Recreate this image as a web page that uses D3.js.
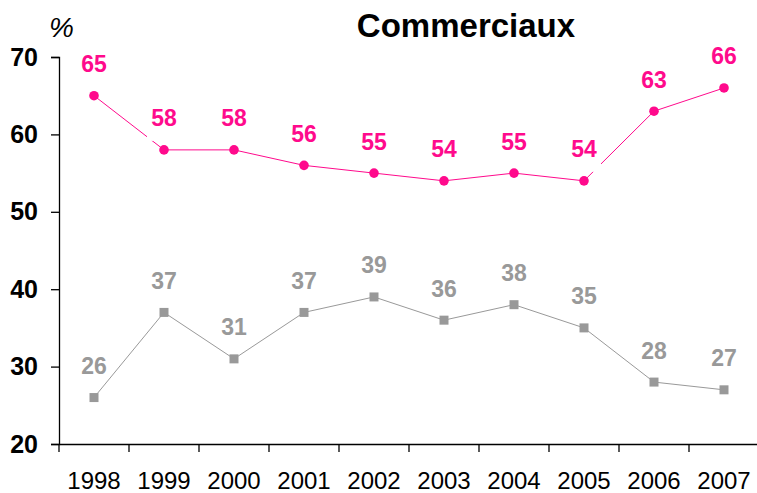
<!DOCTYPE html>
<html>
<head>
<meta charset="utf-8">
<script src="https://cdn.jsdelivr.net/npm/d3@7"></script>
<style>
  html, body { margin: 0; padding: 0; background: #fff; }
  svg { display: block; font-family: "Liberation Sans", Arial, sans-serif; }
</style>
</head>
<body>
<div id="chart"></div>
<script>
// --- Data ---
const years = ['1998', '1999', '2000', '2001', '2002', '2003', '2004', '2005', '2006', '2007'];
const pinkValues = [65, 58, 58, 56, 55, 54, 55, 54, 63, 66];
const grayValues = [26, 37, 31, 37, 39, 36, 38, 35, 28, 27];
const yTicks = [20, 30, 40, 50, 60, 70];
const title = 'Commerciaux';
const unitLabel = '%';

const W = 757, H = 493;
const margin = { top: 57, left: 59 };
const width = 700;
const height = 387;

const pink = '#ff0a8c';
const gray = '#999999';

const svg = d3.select('#chart').append('svg')
    .attr('width', W)
    .attr('height', H);

const g = svg.append('g')
    .attr('transform', `translate(${margin.left},${margin.top})`);

// --- Scales ---
const x = d3.scaleBand().domain(years).range([0, width]);
const y = d3.scaleLinear().domain([20, 70]).range([height, 0]);
const cx = d => x(d) + x.bandwidth() / 2;

// --- Axes ---
const yAxis = g.append('g')
    .call(d3.axisLeft(y).tickValues(yTicks).tickSize(8).tickPadding(13));
yAxis.select('.domain').attr('stroke', '#000').attr('stroke-width', 1.3);
yAxis.selectAll('.tick line').attr('stroke', '#000').attr('stroke-width', 1.3);
yAxis.selectAll('.tick text')
    .attr('fill', '#000')
    .attr('font-size', '25px')
    .attr('font-weight', 'bold')
    .attr('font-family', '"Liberation Sans", Arial, sans-serif');

const xAxis = g.append('g')
    .attr('transform', `translate(0,${height})`)
    .call(d3.axisBottom(x).tickSize(0).tickPadding(28));
xAxis.select('.domain').attr('stroke', '#000').attr('stroke-width', 1.3);
xAxis.selectAll('.tick text')
    .attr('fill', '#000')
    .attr('font-size', '24px')
    .attr('font-family', '"Liberation Sans", Arial, sans-serif');

// tick marks between categories
xAxis.selectAll('.sep')
    .data(d3.range(years.length + 1))
    .enter().append('line')
    .attr('class', 'sep')
    .attr('x1', i => i * x.step())
    .attr('x2', i => i * x.step())
    .attr('y1', 0)
    .attr('y2', 8)
    .attr('stroke', '#000')
    .attr('stroke-width', 1.3);

// --- Lines ---
const line = vals => d3.line()
    .x((d, i) => cx(years[i]))
    .y(d => y(d))(vals);

g.append('path')
    .attr('d', line(grayValues))
    .attr('fill', 'none')
    .attr('stroke', gray)
    .attr('stroke-width', 1);

g.append('path')
    .attr('d', line(pinkValues))
    .attr('fill', 'none')
    .attr('stroke', pink)
    .attr('stroke-width', 1);

// --- Markers ---
g.selectAll('.sq')
    .data(grayValues)
    .enter().append('rect')
    .attr('x', (d, i) => cx(years[i]) - 4.5)
    .attr('y', d => y(d) - 4.5)
    .attr('width', 9)
    .attr('height', 9)
    .attr('fill', gray);

g.selectAll('.dot')
    .data(pinkValues)
    .enter().append('circle')
    .attr('cx', (d, i) => cx(years[i]))
    .attr('cy', d => y(d))
    .attr('r', 4.8)
    .attr('fill', pink);

// --- Data labels ---
const labelOffset = 32;
const labelSize = 23;

// pink labels have an opaque box that hides the line behind them
g.selectAll('.pbox')
    .data(pinkValues)
    .enter().append('rect')
    .attr('x', (d, i) => cx(years[i]) - 17)
    .attr('y', d => y(d) - labelOffset - 13)
    .attr('width', 34)
    .attr('height', 36)
    .attr('fill', '#fff');

function addLabels(vals, color) {
    g.append('g').selectAll('text')
        .data(vals)
        .enter().append('text')
        .attr('x', (d, i) => cx(years[i]))
        .attr('y', d => y(d) - labelOffset + 8.5)
        .attr('text-anchor', 'middle')
        .attr('font-size', labelSize + 'px')
        .attr('font-weight', 'bold')
        .attr('fill', color)
        .text(d => d);
}
addLabels(grayValues, gray);
addLabels(pinkValues, pink);

// --- Title and unit ---
svg.append('text')
    .attr('x', 466)
    .attr('y', 37)
    .attr('text-anchor', 'middle')
    .attr('font-size', '33px')
    .attr('font-weight', 'bold')
    .attr('fill', '#000')
    .text(title);

svg.append('text')
    .attr('x', 49)
    .attr('y', 37)
    .attr('font-size', '28px')
    .attr('font-style', 'italic')
    .attr('fill', '#000')
    .text(unitLabel);
</script>
</body>
</html>
